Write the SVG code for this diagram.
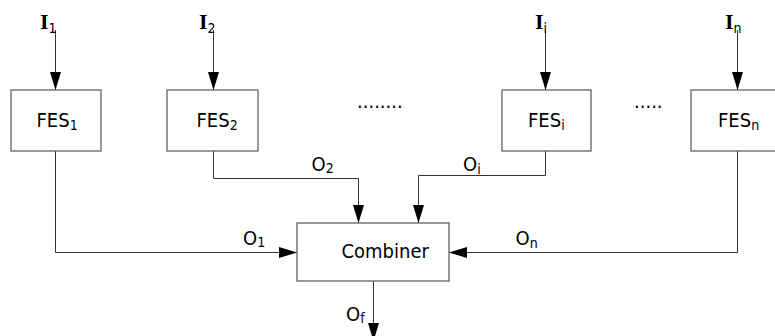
<svg xmlns="http://www.w3.org/2000/svg" width="775" height="336" viewBox="0 0 775 336">
<style>
.box{fill:#fff;stroke:#555;stroke-width:1.2}
.ln{fill:none;stroke:#333;stroke-width:1}
.t{font-family:"DejaVu Sans Condensed","DejaVu Sans",sans-serif;font-stretch:condensed;font-size:20px;fill:#000}
.o{font-family:"DejaVu Sans Condensed","DejaVu Sans",sans-serif;font-stretch:condensed;font-size:20px;fill:#000}
.s{font-size:14px;fill:#000}
.i{font-family:"Liberation Serif","Times New Roman",serif;font-size:22px;font-weight:bold;fill:#000}
.is{font-family:"DejaVu Sans Condensed","DejaVu Sans",sans-serif;font-stretch:condensed;font-weight:normal;font-size:14px;fill:#000}
</style>
<defs>
<marker id="ah" markerWidth="18" markerHeight="11" refX="18" refY="5.5" orient="auto" markerUnits="userSpaceOnUse">
<path d="M0,0 L18,5.5 L0,11 Z" fill="#000"/>
</marker>
</defs>
<g id="connectors">
<line class="ln" x1="55.5" y1="30" x2="55.5" y2="90" marker-end="url(#ah)"/>
<line class="ln" x1="213.5" y1="30" x2="213.5" y2="90" marker-end="url(#ah)"/>
<line class="ln" x1="545.5" y1="30" x2="545.5" y2="90" marker-end="url(#ah)"/>
<line class="ln" x1="737.5" y1="30" x2="737.5" y2="90" marker-end="url(#ah)"/>
<polyline class="ln" points="55.5,151 55.5,252.5 297,252.5" marker-end="url(#ah)"/>
<polyline class="ln" points="213.5,151 213.5,178.5 358.5,178.5 358.5,223" marker-end="url(#ah)"/>
<polyline class="ln" points="545.5,151 545.5,175.5 418.5,175.5 418.5,223" marker-end="url(#ah)"/>
<polyline class="ln" points="737.5,151 737.5,252.5 449,252.5" marker-end="url(#ah)"/>
<line class="ln" x1="373.5" y1="281" x2="373.5" y2="341" marker-end="url(#ah)"/>
</g>
<g id="in1"><text class="i" x="40" y="29">I<tspan class="is" dy="4">1</tspan></text></g>
<g id="in2"><text class="i" x="199" y="29">I<tspan class="is" dy="4">2</tspan></text></g>
<g id="ini"><text class="i" x="535" y="29">I<tspan class="is" dy="4">i</tspan></text></g>
<g id="inn"><text class="i" x="725" y="29">I<tspan class="is" dy="4">n</tspan></text></g>
<g id="fes1"><rect class="box" x="11" y="90" width="90" height="61"/><text class="t" x="36.5" y="127">FES<tspan class="s" dy="3">1</tspan></text></g>
<g id="fes2"><rect class="box" x="167" y="90" width="91" height="61"/><text class="t" x="196.5" y="127">FES<tspan class="s" dy="3">2</tspan></text></g>
<g id="fesi"><rect class="box" x="502" y="90" width="89" height="61"/><text class="t" x="528" y="127">FES<tspan class="s" dy="3">i</tspan></text></g>
<g id="fesn"><rect class="box" x="691" y="90" width="90" height="61"/><text class="t" x="718" y="127">FES<tspan class="s" dy="3">n</tspan></text></g>
<g id="dots1"><text class="t" x="357" y="108">........</text></g>
<g id="dots2"><text class="t" x="634" y="108">.....</text></g>
<g id="combiner"><rect class="box" x="297" y="223" width="152" height="58"/><text class="t" x="341.5" y="258">Combiner</text></g>
<g id="labels">
<text class="o" x="243" y="245">O<tspan class="s" dy="2">1</tspan></text>
<text class="o" x="311.5" y="171">O<tspan class="s" dy="2">2</tspan></text>
<text class="o" x="463" y="171">O<tspan class="s" dy="3">i</tspan></text>
<text class="o" x="515.5" y="245">O<tspan class="s" dy="3">n</tspan></text>
<text class="o" x="346" y="321">O<tspan class="s" dy="2">f</tspan></text>
</g>
</svg>
